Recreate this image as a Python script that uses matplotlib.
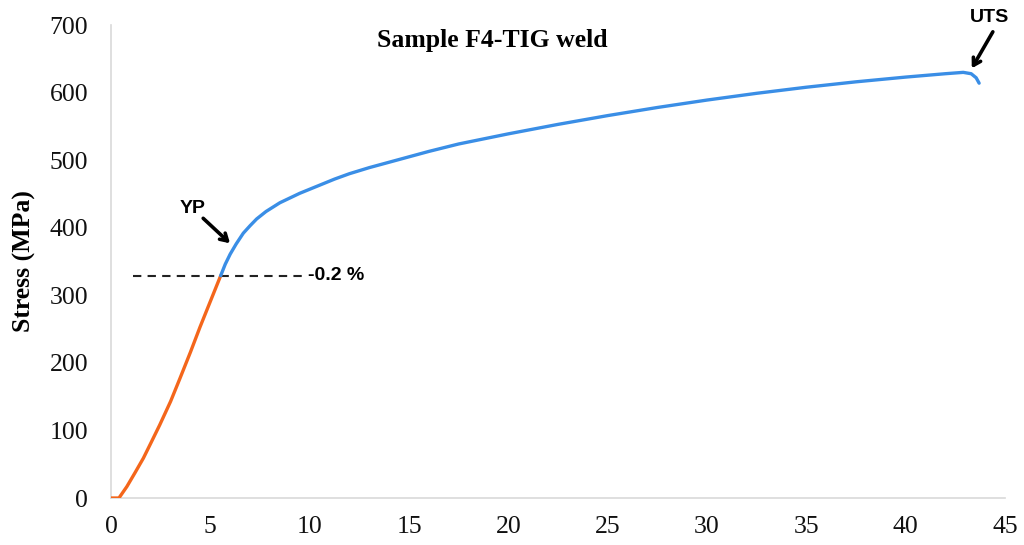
import matplotlib
matplotlib.use("Agg")
import matplotlib.pyplot as plt

# Elastic (orange) portion
strain_elastic = [0.0, 0.4, 0.8, 1.2, 1.63, 2.0, 2.45, 3.0, 3.47, 4.0, 4.48, 5.0, 5.52]
stress_elastic = [0, 0, 17, 37, 59, 81, 108, 143, 177, 216, 253, 291, 329]

# Plastic (blue) portion
strain_plastic = [5.52, 5.75, 6.0, 6.3, 6.66, 7.0, 7.33, 7.8, 8.5, 9.5, 10.5, 11.25,
                  12.0, 13.0, 14.5, 16.0, 17.5, 19.0, 20.0, 22.5, 25.0, 27.5, 30.0,
                  32.5, 35.0, 37.5, 40.0, 42.0, 42.9, 43.3, 43.55, 43.7]
stress_plastic = [329, 346, 361, 376, 392, 403, 413, 424, 437, 451, 463, 472,
                  480, 489, 501, 513, 524, 533, 539, 553, 566, 578, 589,
                  599, 608, 616, 623, 628, 630, 628, 622, 614]

offset_strain = [1.1, 9.8]
offset_stress = [329, 329]

xticks = [0, 5, 10, 15, 20, 25, 30, 35, 40, 45]
yticks = [0, 100, 200, 300, 400, 500, 600, 700]

fig = plt.figure(figsize=(10.24, 5.45), dpi=100)
ax = fig.add_axes([0.1084, 0.0862, 0.873, 0.8678])

ax.plot(offset_strain, offset_stress, color='#222222', lw=1.5, ls=(0, (4, 3)), zorder=2)
ax.plot(strain_elastic, stress_elastic, color='#F4661B', lw=2.4, zorder=3,
        solid_capstyle='round', solid_joinstyle='round')
ax.plot(strain_plastic, stress_plastic, color='#3A8EE6', lw=2.4, zorder=3,
        solid_capstyle='round', solid_joinstyle='round')

ax.set_xlim(0, 45)
ax.set_ylim(0, 700)
ax.set_xticks(xticks)
ax.set_yticks(yticks)
serif = ['Liberation Serif', 'DejaVu Serif']
sans = ['Liberation Sans', 'DejaVu Sans']
for lab in ax.get_xticklabels() + ax.get_yticklabels():
    lab.set_fontfamily(serif)
    lab.set_fontsize(18.5)
    lab.set_color('#111111')
ax.tick_params(axis='both', length=0)
ax.tick_params(axis='y', pad=16.5)
ax.tick_params(axis='x', pad=13)

for s in ['top', 'right']:
    ax.spines[s].set_visible(False)
for s in ['left', 'bottom']:
    ax.spines[s].set_color('#d9d9d9')
    ax.spines[s].set_linewidth(1.2)

ax.set_ylabel('Stress (MPa)', fontfamily=serif, fontweight='bold', fontsize=18.5, labelpad=10)

ax.text(0.427, 0.968, 'Sample F4-TIG weld', transform=ax.transAxes, ha='center', va='center',
        fontfamily=serif, fontweight='bold', fontsize=18.5)

ax.text(9.9, 329, '-0.2 %', ha='left', va='center', fontfamily=sans, fontweight='bold', fontsize=14)

ax.text(4.13, 429, 'YP', ha='center', va='center', fontfamily=sans, fontweight='bold', fontsize=14)
ax.annotate('', xy=(5.99, 377), xytext=(4.64, 414),
            arrowprops=dict(arrowstyle='->,head_length=0.5,head_width=0.3', color='black',
                            lw=2.6, shrinkA=0, shrinkB=0))

ax.text(44.24, 711, 'UTS', ha='center', va='center', fontfamily=sans, fontweight='bold',
        fontsize=14, clip_on=False)
ax.annotate('', xy=(43.33, 636), xytext=(44.39, 690), annotation_clip=False,
            arrowprops=dict(arrowstyle='->,head_length=0.5,head_width=0.3', color='black',
                            lw=2.6, shrinkA=0, shrinkB=0))

fig.savefig('out.png', dpi=100)
